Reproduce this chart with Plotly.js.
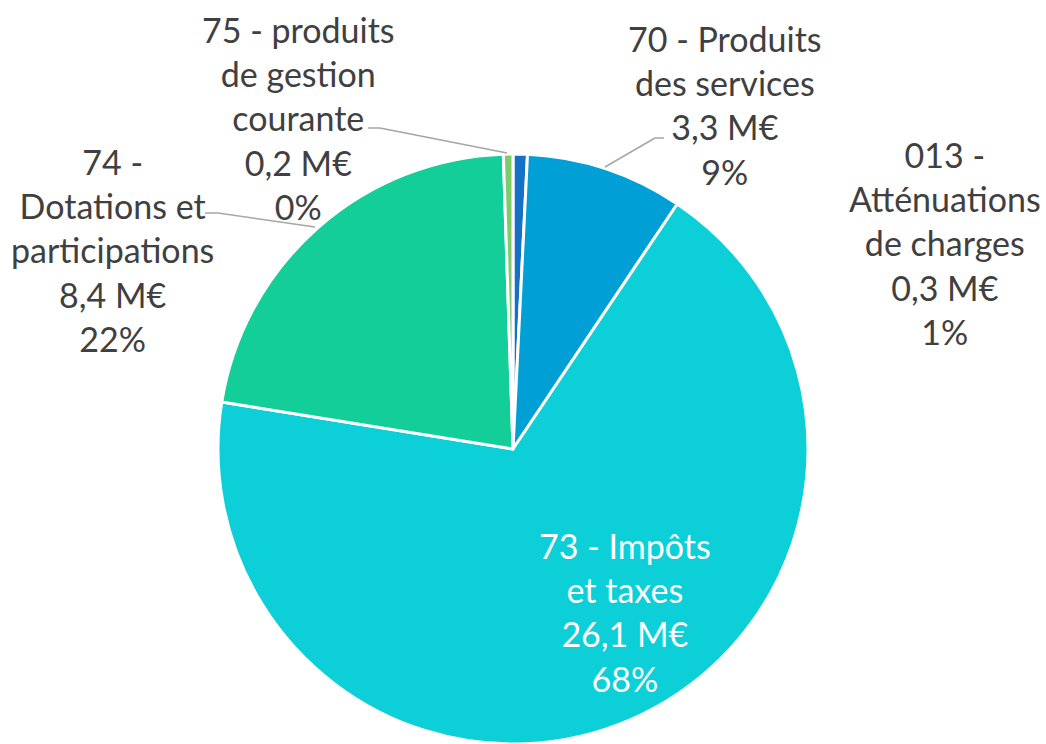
<!DOCTYPE html>
<html>
<head>
<meta charset="utf-8">
<script src="https://cdn.plot.ly/plotly-3.0.1.min.js"></script>
<style>html,body{margin:0;padding:0;background:#fff;}#chart{width:1046px;height:744px;}</style>
</head>
<body>
<div id="chart"></div>
<script>
// Data
const categories = ["013 -<br>Atténuations<br>de charges", "70 - Produits<br>des services", "73 - Impôts<br>et taxes", "74 -<br>Dotations et<br>participations", "75 - produits<br>de gestion<br>courante"];
const amounts = [0.3, 3.3, 26.1, 8.4, 0.2];
const amountLabels = ["0,3 M€", "3,3 M€", "26,1 M€", "8,4 M€", "0,2 M€"];
const percentLabels = ["1%", "9%", "68%", "22%", "0%"];
const colors = ["#1570C8", "#009FD6", "#0DCFD8", "#13CE98", "#7ECB6B"];

const W = 1046, H = 744;
const px = x => x / W;
const py = y => 1 - y / H;

// label placement (pixels)
const labelPos = [
  {x: 945, y: 243, color: "#404040"},
  {x: 725, y: 105, color: "#404040"},
  {x: 625, y: 612, color: "#ffffff"},
  {x: 112, y: 250, color: "#404040"},
  {x: 298, y: 118, color: "#404040"}
];

const annotations = categories.map((c, i) => ({
  xref: "paper", yref: "paper",
  x: px(labelPos[i].x), y: py(labelPos[i].y),
  xanchor: "center", yanchor: "middle", align: "center",
  showarrow: false,
  text: c + "<br>" + amountLabels[i] + "<br>" + percentLabels[i],
  font: {family: "Lato, 'Open Sans', sans-serif", size: 34, color: labelPos[i].color}
}));

// leader lines (pixels)
const leaders = [
  [[605,167],[655,138],[664,138]],
  [[315,227],[218,213],[205,213]],
  [[507,153],[380,128],[368,128]]
];
const shapes = [];
leaders.forEach(pts => {
  for (let k = 0; k < pts.length - 1; k++) {
    shapes.push({type: "line", xref: "paper", yref: "paper",
      x0: px(pts[k][0]), y0: py(pts[k][1]), x1: px(pts[k+1][0]), y1: py(pts[k+1][1]),
      line: {color: "#A6A6A6", width: 1.5}});
  }
});

const cx = 513, cy = 450, r = 296;
const trace = {
  type: "pie",
  labels: categories,
  values: amounts,
  sort: false,
  direction: "clockwise",
  rotation: 0,
  textinfo: "none",
  hoverinfo: "none",
  marker: {colors: colors, line: {color: "#ffffff", width: 3}},
  domain: {x: [px(cx - r), px(cx + r)], y: [Math.max(0, py(cy + r)), py(cy - r)]},
  showlegend: false
};

Plotly.newPlot("chart", [trace], {
  width: W, height: H,
  margin: {l: 0, r: 0, t: 0, b: 0},
  paper_bgcolor: "#ffffff",
  showlegend: false,
  annotations: annotations,
  shapes: shapes
}, {displayModeBar: false, staticPlot: true});
</script>
</body>
</html>
